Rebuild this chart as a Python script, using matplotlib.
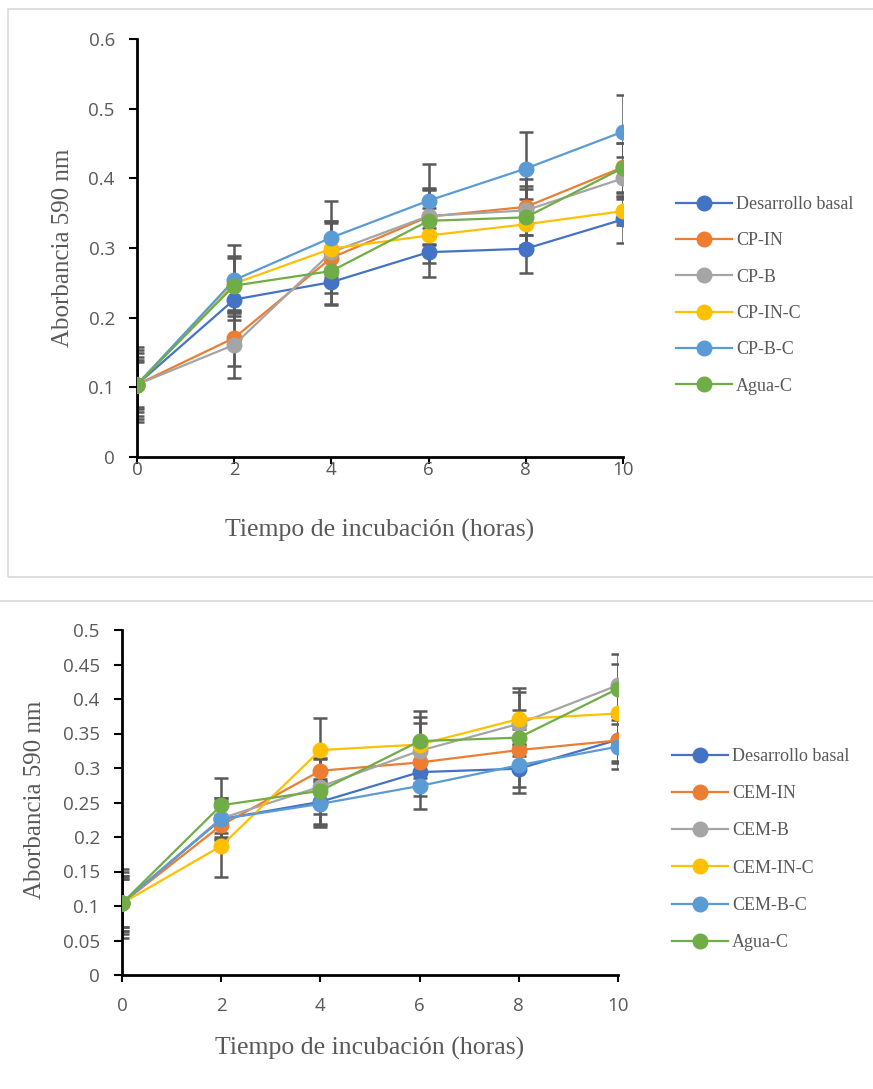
import matplotlib
matplotlib.use("Agg")
import matplotlib.pyplot as plt
from matplotlib.patches import Rectangle
from matplotlib.ticker import FixedLocator, FuncFormatter

hours = [0, 2, 4, 6, 8, 10]

# Top chart series
top_labels = ["Desarrollo basal", "CP-IN", "CP-B", "CP-IN-C", "CP-B-C", "Agua-C"]
basal = [0.104, 0.226, 0.251, 0.294, 0.299, 0.341]
cp_in = [0.104, 0.171, 0.286, 0.345, 0.359, 0.416]
cp_b = [0.104, 0.161, 0.294, 0.346, 0.354, 0.400]
cp_in_c = [0.104, 0.249, 0.299, 0.318, 0.334, 0.353]
cp_b_c = [0.104, 0.254, 0.315, 0.368, 0.414, 0.467]
agua_c = [0.104, 0.246, 0.267, 0.339, 0.344, 0.415]

basal_err = [0.045, 0.030, 0.033, 0.035, 0.035, 0.034]
cp_in_err = [0.040, 0.040, 0.050, 0.040, 0.040, 0.035]
cp_b_err = [0.035, 0.047, 0.045, 0.040, 0.035, 0.030]
cp_in_c_err = [0.032, 0.040, 0.040, 0.040, 0.037, 0.020]
cp_b_c_err = [0.054, 0.051, 0.052, 0.052, 0.052, 0.052]
agua_c_err = [0.050, 0.040, 0.048, 0.044, 0.040, 0.036]

# Bottom chart series
bot_labels = ["Desarrollo basal", "CEM-IN", "CEM-B", "CEM-IN-C", "CEM-B-C", "Agua-C"]
cem_in = [0.104, 0.217, 0.296, 0.308, 0.326, 0.340]
cem_b = [0.104, 0.227, 0.273, 0.325, 0.364, 0.420]
cem_in_c = [0.104, 0.187, 0.326, 0.334, 0.371, 0.379]
cem_b_c = [0.104, 0.226, 0.248, 0.274, 0.304, 0.331]

cem_in_err = [0.035, 0.030, 0.028, 0.030, 0.030, 0.030]
cem_b_err = [0.040, 0.030, 0.040, 0.040, 0.046, 0.045]
cem_in_c_err = [0.040, 0.045, 0.046, 0.040, 0.045, 0.040]
cem_b_c_err = [0.035, 0.026, 0.033, 0.033, 0.031, 0.033]

colors = ["#4472C4", "#ED7D31", "#A5A5A5", "#FFC000", "#5B9BD5", "#70AD47"]
ERR_COLOR = "#595959"
TXT = "#595959"
SERIF = ["Liberation Serif", "DejaVu Serif"]
SANS = ["Open Sans", "DejaVu Sans"]

W, H = 873, 1089
fig = plt.figure(figsize=(W / 100, H / 100), dpi=100)

# panel borders
fig.patches.append(Rectangle((8 / W, 1 - 577 / H), (W - 8) / W + 0.01, (577 - 9) / H,
                             transform=fig.transFigure, fill=False, edgecolor="#D9D9D9", lw=1.2))
fig.patches.append(Rectangle((-0.01, -0.01), 1.02, 1 - 601 / H + 0.01,
                             transform=fig.transFigure, fill=False, edgecolor="#D9D9D9", lw=1.2))


def fmt(v, pos):
    s = ("%.2f" % v).rstrip("0").rstrip(".")
    return s


def draw(ax, series, errs, labels, ymax, ystep, xpad):
    for ys, es in zip(series, errs):
        ax.errorbar(hours, ys, yerr=es, fmt="none", ecolor=ERR_COLOR, elinewidth=1.8,
                    capsize=5, capthick=1.8, zorder=1)
    for ys, c, lab in zip(series, colors, labels):
        ax.plot(hours, ys, color=c, lw=1.6, marker="o", markersize=10.5,
                markerfacecolor=c, markeredgecolor=c, label=lab, zorder=3)
    ax.set_xlim(0, 10)
    ax.set_ylim(0, ymax)
    ax.xaxis.set_major_locator(FixedLocator(hours))
    n = int(round(ymax / ystep))
    ax.yaxis.set_major_locator(FixedLocator([i * ystep for i in range(n + 1)]))
    ax.yaxis.set_major_formatter(FuncFormatter(fmt))
    for s in ["top", "right"]:
        ax.spines[s].set_visible(False)
    for s in ["left", "bottom"]:
        ax.spines[s].set_linewidth(2)
        ax.spines[s].set_color("black")
    ax.tick_params(axis="both", direction="out", length=5, width=1.5, color="black",
                   labelcolor=TXT, labelsize=13.5)
    ax.tick_params(axis="y", length=6, pad=10)
    ax.tick_params(axis="x", pad=xpad)
    for t in ax.get_xticklabels() + ax.get_yticklabels():
        t.set_family(SANS)
    ax.patch.set_alpha(0)


def legend_kw(spacing):
    return dict(loc="upper left", frameon=False, borderpad=0, borderaxespad=0,
                handlelength=3.1, handletextpad=0.22, labelspacing=spacing,
                prop={"family": SERIF, "size": 13}, labelcolor=TXT)


# Top chart
ax1 = fig.add_axes([137 / W, 1 - 457 / H, 486 / W, 418 / H])
draw(ax1,
     [basal, cp_in, cp_b, cp_in_c, cp_b_c, agua_c],
     [basal_err, cp_in_err, cp_b_err, cp_in_c_err, cp_b_c_err, agua_c_err],
     top_labels, 0.6, 0.1, -2)
fig.text(63 / W, 1 - 248 / H, "Aborbancia 590 nm", rotation=90, ha="center", va="center",
         family=SERIF, fontsize=18, color=TXT)
fig.text(380 / W, 1 - 530 / H, "Tiempo de incubación (horas)", ha="center", va="center",
         family=SERIF, fontsize=18.5, color=TXT)
ax1.legend(bbox_to_anchor=(676 / W, 1 - 196 / H), bbox_transform=fig.transFigure,
           **legend_kw(1.07))

# Bottom chart
ax2 = fig.add_axes([122 / W, 1 - 975 / H, 496 / W, 345 / H])
draw(ax2,
     [basal, cem_in, cem_b, cem_in_c, cem_b_c, agua_c],
     [basal_err, cem_in_err, cem_b_err, cem_in_c_err, cem_b_c_err, agua_c_err],
     bot_labels, 0.5, 0.05, 11)
fig.text(35 / W, 1 - 800 / H, "Aborbancia 590 nm", rotation=90, ha="center", va="center",
         family=SERIF, fontsize=18, color=TXT)
fig.text(370 / W, 1 - 1048 / H, "Tiempo de incubación (horas)", ha="center", va="center",
         family=SERIF, fontsize=18.5, color=TXT)
ax2.legend(bbox_to_anchor=(672 / W, 1 - 748 / H), bbox_transform=fig.transFigure,
           **legend_kw(1.12))

fig.savefig("out.png", dpi=100, facecolor="white")
